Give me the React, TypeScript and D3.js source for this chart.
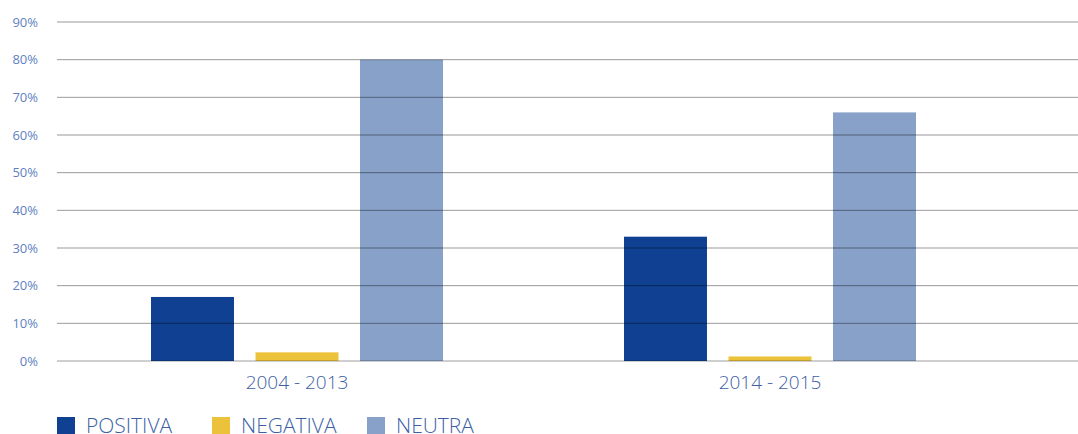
import * as d3 from 'd3'

const CATEGORIES = ['2004 - 2013', '2014 - 2015']
const SERIES = ['POSITIVA', 'NEGATIVA', 'NEUTRA']
const POSITIVA = [17, 33]
const NEGATIVA = [2.3, 1.2]
const NEUTRA = [80, 66]
const Y_TICKS = [0, 10, 20, 30, 40, 50, 60, 70, 80, 90]
const COLORS = ['#0f4092', '#ecc23a', '#87a1c9']

const W = 1078
const H = 434
const PLOT = { left: 57, right: 1078, top: 22, bottom: 361 }
const FONT = '"Open Sans", sans-serif'

export default function App() {
  const values = [POSITIVA, NEGATIVA, NEUTRA]
  const y = d3.scaleLinear().domain([0, 90]).range([PLOT.bottom, PLOT.top])
  const x0 = d3.scaleBand().domain(CATEGORIES).range([60.5, 1006.5]).paddingInner(0).paddingOuter(0)
  const x1 = d3.scaleBand().domain(SERIES).range([90.5, x0.bandwidth() - 90.5]).paddingInner(0.206)

  return (
    <svg width={W} height={H} style={{ position: 'absolute', left: 0, top: 0, display: 'block' }}>
      {CATEGORIES.map((c, ci) => (
        <g key={c} transform={`translate(${x0(c)},0)`}>
          {SERIES.map((s, si) => (
            <rect key={s} x={x1(s)} width={x1.bandwidth()}
              y={y(values[si][ci])} height={y(0) - y(values[si][ci])}
              fill={COLORS[si]} />
          ))}
          <text x={x0.bandwidth() / 2} y={389} textAnchor="middle"
            fontFamily={FONT} fontWeight={300} fontSize={19} fill="#3e5fa6">{c}</text>
        </g>
      ))}
      {Y_TICKS.map(t => (
        <g key={t}>
          <line x1={PLOT.left} x2={PLOT.right} y1={y(t)} y2={y(t)}
            stroke={t === 0 ? 'rgba(0,0,0,0.25)' : 'rgba(0,0,0,0.4)'} strokeWidth={t === 0 ? 1.5 : 1} />
          <text x={38} y={y(t) + 4.5} textAnchor="end"
            fontFamily={FONT} fontSize={13} fill="#5f7fbf">{t}%</text>
        </g>
      ))}
      {SERIES.map((s, si) => {
        const lx = [57, 212, 367][si]
        return (
          <g key={s}>
            <rect x={lx} y={417} width={18} height={18} fill={COLORS[si]} />
            <text x={lx + 29} y={433} fontFamily={FONT} fontWeight={300} fontSize={21} fill="#3e5fa6">{s}</text>
          </g>
        )
      })}
    </svg>
  )
}
